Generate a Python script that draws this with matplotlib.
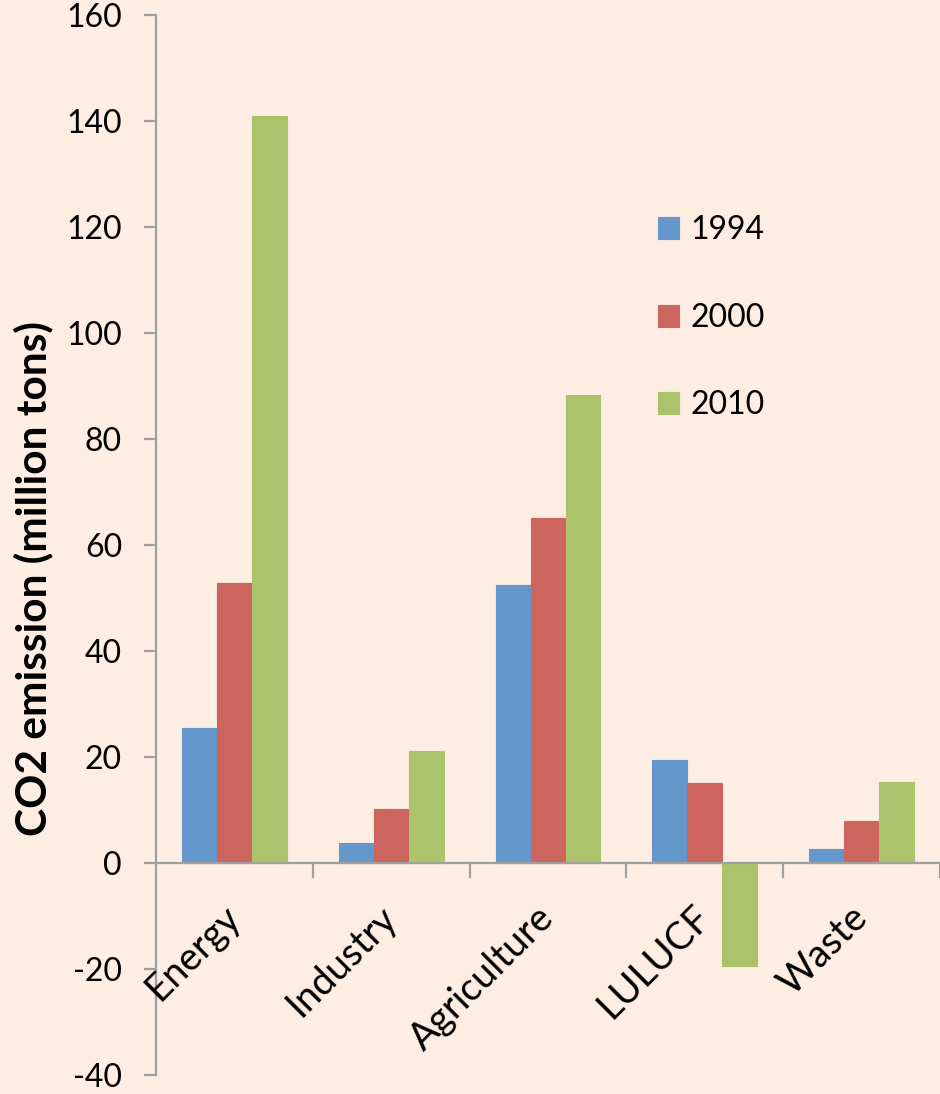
import matplotlib.pyplot as plt
import numpy as np

plt.rcParams['font.family'] = ['Lato', 'DejaVu Sans']

categories = ['Energy', 'Industry', 'Agriculture', 'LULUCF', 'Waste']
years = ['1994', '2000', '2010']
v1994 = [25.5, 3.8, 52.5, 19.4, 2.6]
v2000 = [52.8, 10.2, 65.1, 15.1, 7.9]
v2010 = [141.0, 21.1, 88.3, -19.4, 15.3]
yticks = [-40, -20, 0, 20, 40, 60, 80, 100, 120, 140, 160]

colors = ['#6497CB', '#CC655E', '#ABC46C']
bg = '#FDEDE2'
axis_gray = '#A0A0A0'

fig = plt.figure(figsize=(9.4, 10.94), dpi=100, facecolor=bg)
ax = fig.add_axes([0.166, 0.0174, 0.834, 0.9689])
ax.set_facecolor(bg)

x = np.arange(len(categories))
w = 0.223
for i, (vals, yr) in enumerate(zip([v1994, v2000, v2010], years)):
    ax.bar(x + (i - 1) * w, vals, width=w, color=colors[i], label=yr,
           edgecolor=colors[i], linewidth=0.8, zorder=2)

ax.set_xlim(-0.5, len(categories) - 0.5)
ax.set_ylim(-40, 160)
ax.set_yticks(yticks)
ax.set_yticklabels([str(t) for t in yticks], fontsize=23)
ax.tick_params(axis='y', length=8.5, width=1.6, color=axis_gray, pad=16)

for s in ['top', 'right', 'bottom']:
    ax.spines[s].set_visible(False)
ax.spines['left'].set_color(axis_gray)
ax.spines['left'].set_linewidth(1.6)

# category axis at y = 0 with boundary ticks
ax.axhline(0, color=axis_gray, linewidth=1.6, zorder=3)
for b in np.arange(0.5, len(categories), 1):
    ax.plot([b, b], [0, -2.6], color=axis_gray, linewidth=1.6, clip_on=False, zorder=3)
ax.set_xticks([])

for xi, name in zip(x, categories):
    ax.text(xi + 0.08, -6.8, name, rotation=45, ha='right', va='top',
            fontsize=27.5, rotation_mode='default')

ax.set_ylabel('CO2 emission (million tons)', fontsize=30.5, fontweight='bold')
ax.yaxis.set_label_coords(-0.131, 0.468)

ax.legend(loc='upper left', bbox_to_anchor=(0.603, 0.838), frameon=False,
          fontsize=23, handlelength=0.68, handleheight=0.68, handletextpad=0.35,
          labelspacing=1.8)

fig.savefig('out.png', dpi=100, facecolor=bg)
